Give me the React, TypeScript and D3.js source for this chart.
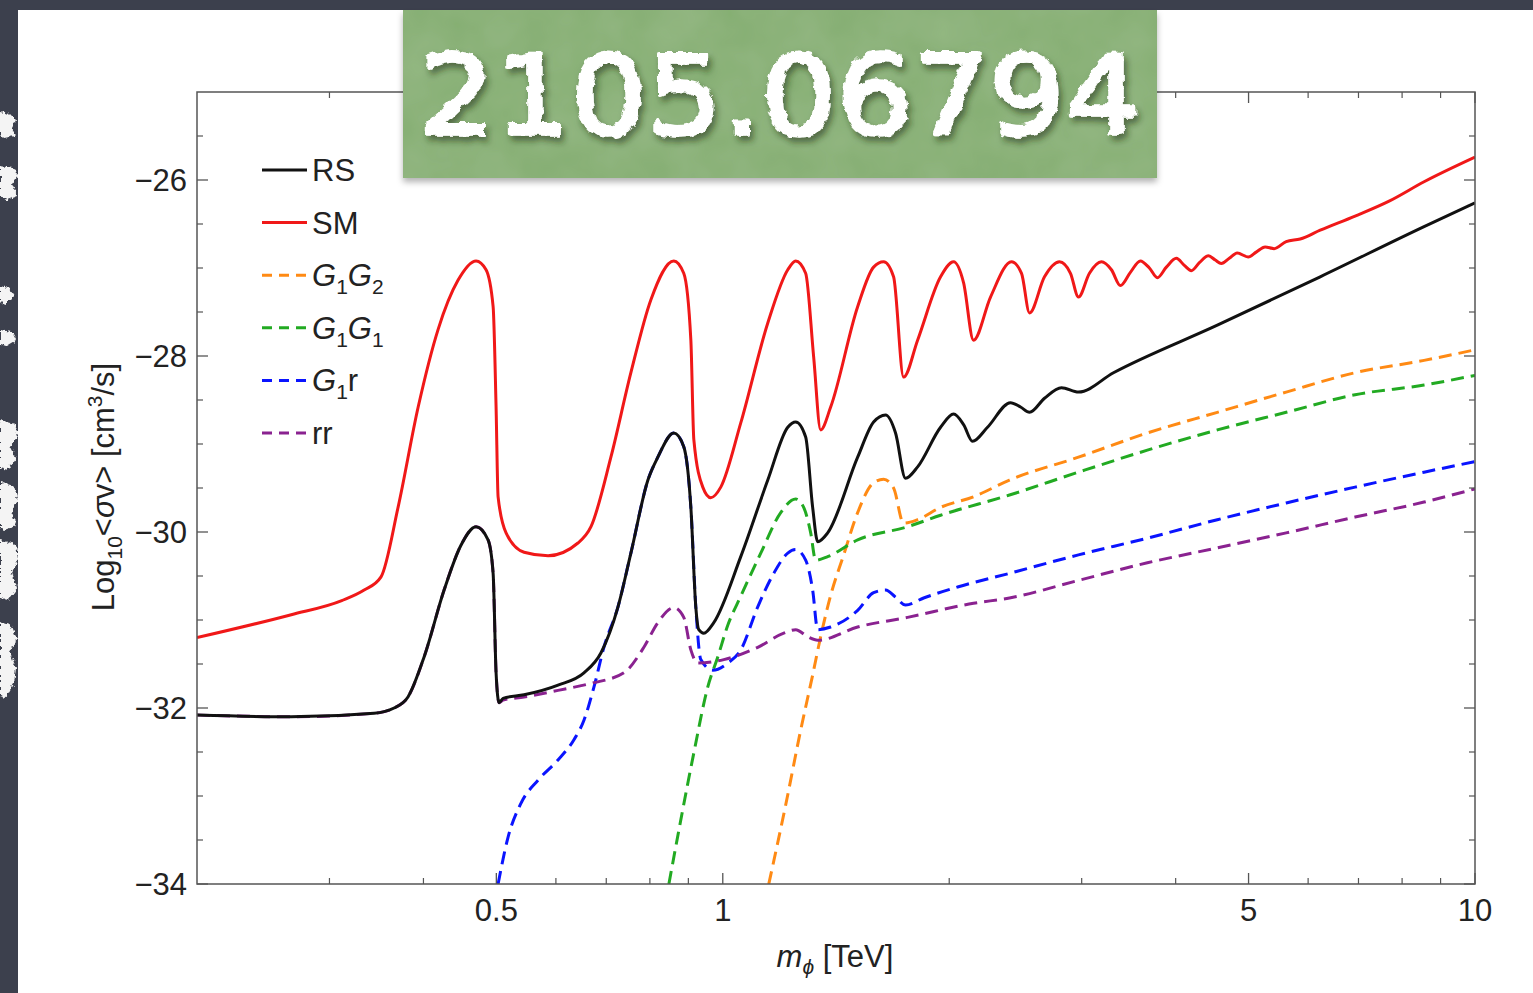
import React from 'react';
import * as d3 from 'd3';

type P = [number, number];

// ---- data (m_phi in TeV, log10 <sigma v> in cm^3/s) ----
const RS_LOW: P[] = [[0.2,-32.08],[0.2669,-32.10],[0.3439,-32.06],[0.3656,-32.0],[0.3815,-31.875],[0.4008,-31.42],[0.4261,-30.66],[0.4487,-30.15],[0.4699,-29.94],[0.4875,-30.09],[0.4951,-30.47],[0.4996,-31.60],[0.5042,-31.94]];
const RS_HIGH: P[] = [[0.5104,-31.89],[0.5443,-31.85],[0.6039,-31.74],[0.6538,-31.60],[0.6886,-31.375],[0.7256,-30.85],[0.7548,-30.24],[0.7952,-29.41],[0.8197,-29.15],[0.8608,-28.875],[0.8874,-29.03],[0.9069,-29.72],[0.9207,-30.85],[0.9292,-31.11],[0.9436,-31.15],[0.9728,-31.03],[1.0566,-30.28],[1.1477,-29.41],[1.2201,-28.81],[1.25,-28.75],[1.2888,-28.92],[1.3167,-29.72],[1.3372,-30.11],[1.3786,-30.01],[1.5111,-29.15],[1.5867,-28.75],[1.6461,-28.67],[1.697,-28.875],[1.7498,-29.39],[1.8155,-29.26],[1.9478,-28.81],[2.027,-28.66],[2.09,-28.78],[2.1478,-28.97],[2.2487,-28.81],[2.4128,-28.53],[2.488,-28.58],[2.5573,-28.64],[2.6773,-28.48],[2.8202,-28.36],[2.9706,-28.41],[3.3066,-28.19],[4.5443,-27.65],[6.2259,-27.10],[8.5565,-26.53],[10,-26.26]];

const SM: P[] = [[0.2,-31.2],[0.2669,-30.94],[0.3115,-30.78],[0.3336,-30.66],[0.3513,-30.51],[0.3701,-29.72],[0.3936,-28.58],[0.4183,-27.70],[0.4446,-27.14],[0.4699,-26.92],[0.4845,-27.02],[0.4951,-27.44],[0.4996,-28.58],[0.5027,-29.60],[0.5151,-30.01],[0.5443,-30.23],[0.5857,-30.27],[0.6419,-30.125],[0.668,-29.94],[0.71,-29.15],[0.7548,-28.19],[0.8025,-27.36],[0.8608,-26.92],[0.8874,-27.06],[0.9069,-27.82],[0.9152,-28.95],[0.9406,-29.49],[0.964,-29.61],[0.9939,-29.49],[1.0566,-28.76],[1.1477,-27.625],[1.2201,-27.02],[1.25,-26.92],[1.2888,-27.06],[1.3207,-28.01],[1.3493,-28.84],[1.3913,-28.58],[1.5111,-27.44],[1.5867,-26.99],[1.636,-26.93],[1.6868,-27.10],[1.7392,-28.24],[1.8155,-27.82],[1.9478,-27.10],[2.027,-26.93],[2.09,-27.17],[2.1544,-27.82],[2.2695,-27.33],[2.4201,-26.93],[2.4955,-27.06],[2.5573,-27.51],[2.6773,-27.10],[2.8028,-26.93],[2.8988,-27.06],[2.9706,-27.33],[3.0722,-27.06],[3.1868,-26.93],[3.286,-27.02],[3.3778,-27.20],[3.4822,-27.05],[3.5904,-26.92],[3.6909,-27.0],[3.7825,-27.11],[3.8877,-26.99],[4.0087,-26.89],[4.1077,-26.97],[4.1966,-27.03],[4.301,-26.94],[4.4204,-26.86],[4.5161,-26.91],[4.6,-26.95],[4.7136,-26.89],[4.83,-26.83],[4.994,-26.875],[5.118,-26.82],[5.2603,-26.76],[5.4074,-26.78],[5.6105,-26.70],[5.856,-26.67],[6.2259,-26.57],[6.9278,-26.41],[7.6878,-26.24],[8.5565,-26.02],[10,-25.74]];

const G1G2: P[] = [[1.1512,-34.0],[1.2125,-33.10],[1.2694,-32.25],[1.3167,-31.625],[1.3493,-31.19],[1.3913,-30.72],[1.4479,-30.26],[1.5111,-29.78],[1.5867,-29.44],[1.636,-29.40],[1.6868,-29.50],[1.7392,-29.90],[1.8155,-29.86],[1.9478,-29.72],[2.1544,-29.60],[2.405,-29.41],[2.9706,-29.15],[3.6681,-28.875],[4.5443,-28.64],[5.6105,-28.41],[6.9278,-28.19],[8.5565,-28.05],[10,-27.93]];

const G1G1: P[] = [[0.8479,-34.0],[0.8795,-33.27],[0.9152,-32.51],[0.9552,-31.76],[0.9848,-31.42],[1.0154,-31.06],[1.0566,-30.73],[1.1233,-30.24],[1.1941,-29.78],[1.25,-29.625],[1.281,-29.72],[1.3088,-30.01],[1.3289,-30.32],[1.3786,-30.28],[1.5111,-30.09],[1.7606,-29.94],[1.9478,-29.81],[2.405,-29.58],[2.9706,-29.32],[3.6681,-29.07],[4.5443,-28.84],[5.6105,-28.64],[6.9278,-28.44],[8.5565,-28.33],[10,-28.22]];

const G1R: P[] = [[0.5027,-34.0],[0.5182,-33.47],[0.5393,-33.08],[0.5681,-32.82],[0.6039,-32.59],[0.6341,-32.36],[0.6538,-32.14],[0.6742,-31.76],[0.695,-31.31],[0.7256,-30.85],[0.7548,-30.24],[0.7952,-29.41],[0.8197,-29.15],[0.8608,-28.875],[0.8874,-29.03],[0.9069,-29.72],[0.9207,-30.85],[0.935,-31.45],[0.9699,-31.57],[1.0154,-31.49],[1.0566,-31.34],[1.113,-30.85],[1.1688,-30.47],[1.2201,-30.24],[1.25,-30.20],[1.2888,-30.32],[1.3167,-30.66],[1.3372,-31.11],[1.3913,-31.08],[1.5111,-30.89],[1.5867,-30.69],[1.6461,-30.66],[1.697,-30.74],[1.7498,-30.83],[1.8493,-30.75],[2.0519,-30.625],[2.405,-30.47],[2.9706,-30.26],[3.6681,-30.07],[4.5443,-29.86],[5.6105,-29.67],[6.9278,-29.49],[8.5565,-29.32],[10,-29.20]];

const RR_HIGH: P[] = [[0.5104,-31.91],[0.5443,-31.875],[0.6039,-31.80],[0.668,-31.72],[0.7388,-31.60],[0.7854,-31.31],[0.8197,-31.03],[0.8608,-30.86],[0.8874,-30.97],[0.9069,-31.34],[0.9264,-31.49],[1.003,-31.45],[1.113,-31.31],[1.2052,-31.15],[1.25,-31.11],[1.2968,-31.19],[1.3372,-31.23],[1.5111,-31.08],[1.7606,-30.97],[2.1544,-30.81],[2.405,-30.75],[2.9706,-30.55],[3.6681,-30.35],[4.5443,-30.18],[5.6105,-30.01],[6.9278,-29.83],[8.5565,-29.66],[10,-29.51]];

const RS: P[] = RS_LOW.concat(RS_HIGH);
const RR: P[] = RS_LOW.concat(RR_HIGH);

const X_MAJOR = [0.5, 1, 5, 10];
const X_MINOR = [0.3, 0.4, 0.6, 0.7, 0.8, 0.9, 2, 3, 4, 6, 7, 8, 9];
const Y_MAJOR = [-34, -32, -30, -28, -26];
const Y_MINOR = [-33.5, -33, -32.5, -31.5, -31, -30.5, -29.5, -29, -28.5, -27.5, -27, -26.5, -25.5];

const SERIES = [
  { key: 'G1G2', data: G1G2, color: '#ff8a14', dash: true },
  { key: 'G1G1', data: G1G1, color: '#22aa22', dash: true },
  { key: 'G1r', data: G1R, color: '#0a14ff', dash: true },
  { key: 'rr', data: RR, color: '#8a2290', dash: true },
  { key: 'SM', data: SM, color: '#f01818', dash: false },
  { key: 'RS', data: RS, color: '#111111', dash: false },
];

const LEGEND = [
  { key: 'RS', color: '#111111', dash: false },
  { key: 'SM', color: '#f01818', dash: false },
  { key: 'G1G2', color: '#ff8a14', dash: true },
  { key: 'G1G1', color: '#22aa22', dash: true },
  { key: 'G1r', color: '#0a14ff', dash: true },
  { key: 'rr', color: '#8a2290', dash: true },
];

const FONT = '"Liberation Sans", Arial, Helvetica, sans-serif';

const L = 197, R = 1475, T = 92, B = 884;

function LegendLabel({ k }: { k: string }) {
  const sub = { fontSize: 21, fontStyle: 'normal' as const };
  if (k === 'G1G2' || k === 'G1G1') {
    const s2 = k === 'G1G2' ? '2' : '1';
    return (
      <>
        <tspan fontStyle="italic">G</tspan>
        <tspan {...sub} dy={8}>1</tspan>
        <tspan fontStyle="italic" dy={-8}>G</tspan>
        <tspan {...sub} dy={8}>{s2}</tspan>
      </>
    );
  }
  if (k === 'G1r') {
    return (
      <>
        <tspan fontStyle="italic">G</tspan>
        <tspan {...sub} dy={8}>1</tspan>
        <tspan dy={-8}>r</tspan>
      </>
    );
  }
  return <>{k}</>;
}

export default function App() {
  const x = d3.scaleLog().domain([0.2, 10]).range([L, R]);
  const y = d3.scaleLinear().domain([-34, -25]).range([B, T]);
  const line = d3.line<P>().x(d => x(d[0])).y(d => y(d[1])).curve(d3.curveMonotoneX);

  const tickColor = '#555';
  const fmtY = (v: number) => (v < 0 ? '\u2212' + Math.abs(v) : String(v));

  const chalk = [
    'M0,112 L10,114 L16,120 L12,128 L15,136 L4,138 L0,134 Z',
    'M0,166 L14,168 L18,176 L12,184 L17,196 L6,200 L0,196 Z',
    'M0,286 L9,288 L14,296 L6,304 L0,302 Z',
    'M0,330 L12,332 L16,340 L6,346 L0,344 Z',
    'M0,420 L15,424 L18,436 L10,446 L16,458 L8,470 L0,468 Z',
    'M0,482 L14,486 L18,500 L12,512 L16,526 L4,530 L0,528 Z',
    'M0,540 L16,544 L18,560 L12,572 L17,588 L8,600 L0,598 Z',
    'M0,622 L12,626 L17,640 L10,652 L16,668 L14,684 L6,698 L0,696 Z',
  ];

  return (
    <svg width={1533} height={993} style={{ position: 'absolute', left: 0, top: 0 }} fontFamily={FONT}>
      <defs>
        <clipPath id="plotClip">
          <rect x={L} y={T} width={R - L} height={B - T} />
        </clipPath>
        <filter id="rough" x="-5%" y="-20%" width="110%" height="140%">
          <feTurbulence type="fractalNoise" baseFrequency="0.12" numOctaves="2" seed="3" result="n" />
          <feDisplacementMap in="SourceGraphic" in2="n" scale="7" xChannelSelector="R" yChannelSelector="G" result="d" />
          <feGaussianBlur in="d" stdDeviation="0.5" result="db" />
          <feDropShadow dx="3" dy="5" stdDeviation="3" floodColor="#1d3014" floodOpacity="0.55" />
        </filter>
        <filter id="chalkEdge" x="-50%" y="-10%" width="200%" height="120%">
          <feTurbulence type="fractalNoise" baseFrequency="0.3" numOctaves="2" seed="5" result="n" />
          <feDisplacementMap in="SourceGraphic" in2="n" scale="6" xChannelSelector="R" yChannelSelector="G" />
        </filter>
        <filter id="boxShadow" x="-5%" y="-10%" width="110%" height="130%">
          <feDropShadow dx="0" dy="4" stdDeviation="3" floodColor="#000" floodOpacity="0.3" />
        </filter>
        <filter id="paper" x="0" y="0" width="100%" height="100%">
          <feTurbulence type="fractalNoise" baseFrequency="0.02" numOctaves="3" seed="7" result="t" />
          <feColorMatrix in="t" type="matrix" values="0 0 0 0 0.45  0 0 0 0 0.62  0 0 0 0 0.38  0 0 0 0.3 0" result="c" />
          <feComposite in="c" in2="SourceGraphic" operator="in" result="cc" />
          <feMerge>
            <feMergeNode in="SourceGraphic" />
            <feMergeNode in="cc" />
          </feMerge>
        </filter>
      </defs>

      {/* background board */}
      <rect x={0} y={0} width={1533} height={993} fill="#3c404d" />
      <g filter="url(#chalkEdge)">
        {chalk.map((d, i) => <path key={i} d={d} fill="#f4f4f4" />)}
      </g>
      <rect x={18} y={10} width={1515} height={983} fill="#ffffff" />

      {/* curves */}
      <g clipPath="url(#plotClip)">
        {SERIES.map(s => (
          <path key={s.key} d={line(s.data) || ''} fill="none" stroke={s.color}
            strokeWidth={3} strokeDasharray={s.dash ? '13,7' : undefined} strokeLinejoin="round" />
        ))}
      </g>

      {/* frame */}
      <rect x={L} y={T} width={R - L} height={B - T} fill="none" stroke={tickColor} strokeWidth={1.5} />

      {/* x ticks */}
      {X_MAJOR.map(v => (
        <g key={'xM' + v}>
          <line x1={x(v)} x2={x(v)} y1={B} y2={B - 11} stroke={tickColor} strokeWidth={1.3} />
          <line x1={x(v)} x2={x(v)} y1={T} y2={T + 11} stroke={tickColor} strokeWidth={1.3} />
          <text x={x(v)} y={B + 37} textAnchor="middle" fontSize={31} fill="#222">{String(v)}</text>
        </g>
      ))}
      {X_MINOR.map(v => (
        <g key={'xm' + v}>
          <line x1={x(v)} x2={x(v)} y1={B} y2={B - 6} stroke={tickColor} strokeWidth={1.2} />
          <line x1={x(v)} x2={x(v)} y1={T} y2={T + 6} stroke={tickColor} strokeWidth={1.2} />
        </g>
      ))}

      {/* y ticks */}
      {Y_MAJOR.map(v => (
        <g key={'yM' + v}>
          <line x1={L} x2={L + 11} y1={y(v)} y2={y(v)} stroke={tickColor} strokeWidth={1.3} />
          <line x1={R} x2={R - 11} y1={y(v)} y2={y(v)} stroke={tickColor} strokeWidth={1.3} />
          <text x={L - 10} y={y(v) + 11} textAnchor="end" fontSize={31} fill="#222">{fmtY(v)}</text>
        </g>
      ))}
      {Y_MINOR.map(v => (
        <g key={'ym' + v}>
          <line x1={L} x2={L + 6} y1={y(v)} y2={y(v)} stroke={tickColor} strokeWidth={1.2} />
          <line x1={R} x2={R - 6} y1={y(v)} y2={y(v)} stroke={tickColor} strokeWidth={1.2} />
        </g>
      ))}

      {/* axis titles */}
      <text x={835} y={967} textAnchor="middle" fontSize={31} fill="#222">
        <tspan fontStyle="italic">m</tspan>
        <tspan fontStyle="italic" fontSize={21} dy={7}>ϕ</tspan>
        <tspan dy={-7}> [TeV]</tspan>
      </text>
      <text transform="translate(114,487) rotate(-90)" textAnchor="middle" fontSize={31} fill="#222">
        <tspan>Log</tspan>
        <tspan fontSize={21} dy={8}>10</tspan>
        <tspan dy={-8}>&lt;</tspan>
        <tspan fontStyle="italic">σ</tspan>
        <tspan>v&gt; [cm</tspan>
        <tspan fontSize={21} dy={-12}>3</tspan>
        <tspan dy={12}>/s]</tspan>
      </text>

      {/* legend */}
      {LEGEND.map((l, i) => {
        const cy = 170 + i * 52.6;
        return (
          <g key={'lg' + l.key}>
            <line x1={262} x2={307} y1={cy} y2={cy} stroke={l.color} strokeWidth={3}
              strokeDasharray={l.dash ? '10,7' : undefined} />
            <text x={312} y={cy + 11} fontSize={31} fill="#222"><LegendLabel k={l.key} /></text>
          </g>
        );
      })}

      {/* arXiv label */}
      <g filter="url(#boxShadow)">
        <rect x={403} y={10} width={754} height={168} fill="#84ad71" filter="url(#paper)" />
      </g>
      <text x={780} y={134} textAnchor="middle" fontSize={110}
        fontFamily='"DejaVu Sans", "Liberation Sans", sans-serif' fill="#ffffff"
        stroke="#ffffff" strokeWidth={3.5} strokeLinejoin="round"
        textLength={722} lengthAdjust="spacingAndGlyphs" filter="url(#rough)">2105.06794</text>
    </svg>
  );
}
